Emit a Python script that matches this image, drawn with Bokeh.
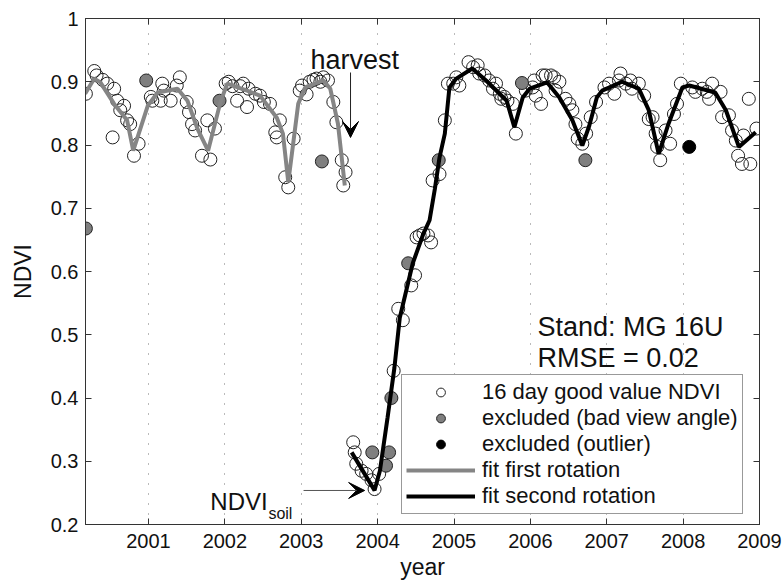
from bokeh.plotting import figure
from bokeh.models import (LinearAxis, FixedTicker, Legend, LegendItem, Label,
                          Arrow, VeeHead, Range1d)
from bokeh.embed import file_html
from bokeh.resources import INLINE

# ---------------- data ----------------
year_ticks = [2001, 2002, 2003, 2004, 2005, 2006, 2007, 2008, 2009]
ndvi_ticks = [0.2, 0.3, 0.4, 0.5, 0.6, 0.7, 0.8, 0.9, 1.0]

good_year = [
    2000.18, 2000.29, 2000.32, 2000.40, 2000.46, 2000.53, 2000.55, 2000.59, 2000.63,
    2000.68, 2000.72, 2000.76, 2000.81, 2000.87, 2001.03, 2001.05, 2001.16, 2001.18,
    2001.20, 2001.29, 2001.37, 2001.41, 2001.50, 2001.53, 2001.57, 2001.61, 2001.70,
    2001.77, 2001.81, 2001.87, 2002.01, 2002.05, 2002.10, 2002.16, 2002.20, 2002.24,
    2002.29, 2002.31, 2002.40, 2002.46, 2002.51, 2002.59, 2002.66, 2002.68, 2002.72,
    2002.79, 2002.83, 2002.90, 2002.98, 2003.01, 2003.07, 2003.11, 2003.16, 2003.20,
    2003.25, 2003.29, 2003.35, 2003.42, 2003.46, 2003.53, 2003.58, 2003.55,
    2003.68, 2003.70, 2003.72, 2003.79, 2003.85, 2003.92, 2003.96, 2004.02, 2004.21,
    2004.27, 2004.33, 2004.44, 2004.49, 2004.51, 2004.55, 2004.60, 2004.66, 2004.70,
    2004.72, 2004.81, 2004.88, 2004.92, 2004.99, 2005.03, 2005.07, 2005.19, 2005.25,
    2005.31, 2005.33, 2005.40, 2005.46, 2005.51, 2005.55, 2005.60, 2005.62, 2005.66,
    2005.70, 2005.77, 2005.81, 2005.94, 2006.03, 2006.05, 2006.07, 2006.14, 2006.16,
    2006.20, 2006.27, 2006.31, 2006.33, 2006.38, 2006.46, 2006.51, 2006.55, 2006.59,
    2006.62, 2006.68, 2006.73, 2006.79, 2006.86, 2006.97, 2007.03, 2007.10, 2007.16,
    2007.18, 2007.25, 2007.31, 2007.33, 2007.42, 2007.49, 2007.55, 2007.60, 2007.64,
    2007.66, 2007.70, 2007.77, 2007.83, 2007.88, 2007.92, 2007.97, 2008.12, 2008.16,
    2008.25, 2008.31, 2008.34, 2008.38, 2008.49, 2008.51, 2008.60, 2008.64, 2008.69,
    2008.72, 2008.77, 2008.79, 2008.86, 2008.88, 2008.96,
]
good_ndvi = [
    0.881, 0.917, 0.910, 0.903, 0.897, 0.812, 0.889, 0.870, 0.855,
    0.862, 0.839, 0.833, 0.783, 0.802, 0.876, 0.870, 0.870, 0.897,
    0.886, 0.870, 0.894, 0.907, 0.868, 0.852, 0.833, 0.823, 0.783,
    0.839, 0.777, 0.826, 0.897, 0.900, 0.893, 0.870, 0.893, 0.897,
    0.860, 0.889, 0.881, 0.878, 0.868, 0.865, 0.820, 0.812, 0.839,
    0.749, 0.733, 0.810, 0.886, 0.894, 0.880, 0.900, 0.903, 0.905,
    0.900, 0.907, 0.902, 0.868, 0.836, 0.776, 0.757, 0.736,
    0.330, 0.314, 0.296, 0.285, 0.280, 0.270, 0.256, 0.280, 0.443,
    0.541, 0.523, 0.578, 0.594, 0.654, 0.657, 0.660, 0.657, 0.646,
    0.744, 0.754, 0.839, 0.897, 0.897, 0.907, 0.894, 0.931, 0.923,
    0.926, 0.913, 0.910, 0.902, 0.889, 0.897, 0.881, 0.873, 0.876,
    0.870, 0.865, 0.818, 0.886, 0.891, 0.902, 0.878, 0.865, 0.910,
    0.910, 0.910, 0.907, 0.886, 0.900, 0.873, 0.865, 0.855, 0.833,
    0.810, 0.802, 0.818, 0.844, 0.868, 0.891, 0.897, 0.881, 0.902,
    0.913, 0.897, 0.902, 0.889, 0.897, 0.878, 0.841, 0.844, 0.818,
    0.797, 0.776, 0.823, 0.802, 0.849, 0.865, 0.897, 0.891, 0.884,
    0.889, 0.884, 0.873, 0.897, 0.884, 0.844, 0.847, 0.823, 0.807,
    0.783, 0.770, 0.815, 0.873, 0.770, 0.826,
]

badview_year = [2000.18, 2000.97, 2001.93, 2003.27, 2003.93, 2004.11, 2004.15,
                2004.18, 2004.40, 2004.80, 2005.89, 2006.72]
badview_ndvi = [0.668, 0.902, 0.870, 0.774, 0.314, 0.293, 0.314,
                0.400, 0.613, 0.776, 0.898, 0.776]

outlier_year = [2008.08]
outlier_ndvi = [0.797]

fit1_year = [2000.17, 2000.29, 2000.37, 2000.55, 2000.72, 2000.80, 2000.99, 2001.12,
             2001.38, 2001.51, 2001.64, 2001.78, 2001.94, 2002.03, 2002.29, 2002.46,
             2002.68, 2002.76, 2002.83, 2002.96, 2003.05, 2003.29, 2003.38, 2003.48,
             2003.57]
fit1_ndvi = [0.881, 0.905, 0.899, 0.865, 0.839, 0.791, 0.862, 0.883,
             0.889, 0.870, 0.826, 0.791, 0.867, 0.897, 0.886, 0.878,
             0.843, 0.818, 0.741, 0.865, 0.891, 0.902, 0.889, 0.834,
             0.736]

fit2_year = [2003.66, 2003.96, 2004.03, 2004.13, 2004.22, 2004.29, 2004.46, 2004.60,
             2004.68, 2004.75, 2004.81, 2004.88, 2004.94, 2005.03, 2005.24, 2005.42,
             2005.69, 2005.79, 2005.90, 2005.99, 2006.22, 2006.38, 2006.55, 2006.68,
             2006.77, 2006.87, 2006.94, 2007.20, 2007.42, 2007.55, 2007.68, 2007.81,
             2007.99, 2008.08, 2008.42, 2008.56, 2008.73, 2008.95]
fit2_ndvi = [0.314, 0.254, 0.285, 0.369, 0.448, 0.527, 0.613, 0.660,
             0.681, 0.731, 0.780, 0.818, 0.891, 0.905, 0.921, 0.902,
             0.870, 0.828, 0.875, 0.889, 0.899, 0.875, 0.839, 0.799,
             0.830, 0.875, 0.886, 0.900, 0.889, 0.855, 0.786, 0.834,
             0.891, 0.894, 0.883, 0.855, 0.797, 0.820]

# ---------------- figure ----------------
FONT = "Liberation Sans"
AX = "#333333"
TXT = "#111111"

p = figure(width=782, height=585, output_backend="svg", toolbar_location=None,
           x_range=Range1d(2000.175, 2009.0), y_range=Range1d(0.2, 1.0),
           min_border_left=85, min_border_right=23, min_border_top=18,
           min_border_bottom=61)
p.background_fill_color = "white"
p.border_fill_color = "white"
p.outline_line_color = AX
p.outline_line_width = 1

for ax in (p.xaxis[0], p.yaxis[0]):
    ax.major_tick_in = 6
    ax.major_tick_out = 0
    ax.minor_tick_line_color = None
    ax.axis_line_color = AX
    ax.major_tick_line_color = AX
    ax.major_label_text_font = FONT
    ax.major_label_text_font_size = "20px"
    ax.major_label_text_color = TXT
    ax.axis_label_text_font = FONT
    ax.axis_label_text_font_size = "23px"
    ax.axis_label_text_font_style = "normal"
    ax.axis_label_text_color = TXT

p.xaxis.ticker = FixedTicker(ticks=year_ticks)
p.xaxis.axis_label = "year"
p.xaxis.major_label_standoff = 9
p.xaxis.axis_label_standoff = 3

p.yaxis.ticker = FixedTicker(ticks=ndvi_ticks)
p.yaxis.major_label_overrides = {1: "1"}
p.yaxis.axis_label = "NDVI"
p.yaxis.major_label_standoff = 7
p.yaxis.axis_label_standoff = 12

# ticks only (no labels) on the top and right edges
top = LinearAxis(ticker=FixedTicker(ticks=year_ticks), major_label_text_font_size="0px",
                 major_label_text_color=None, major_label_standoff=0,
                 major_tick_in=6, major_tick_out=0,
                 minor_tick_line_color=None, axis_line_color=AX, major_tick_line_color=AX)
p.add_layout(top, "above")
right = LinearAxis(ticker=FixedTicker(ticks=ndvi_ticks), major_label_text_font_size="0px",
                   major_label_text_color=None, major_label_standoff=0,
                   major_tick_in=6, major_tick_out=0,
                   minor_tick_line_color=None, axis_line_color=AX, major_tick_line_color=AX)
p.add_layout(right, "right")

p.xgrid.ticker = FixedTicker(ticks=year_ticks)
p.xgrid.grid_line_color = "#777777"
p.xgrid.grid_line_dash = "1 9"
p.xgrid.grid_line_width = 1
p.ygrid.visible = False

# ---------------- glyphs ----------------
r_good = p.scatter(good_year, good_ndvi, marker="circle", size=13,
                   fill_color=None, line_color="#222222", line_width=1)
r_bad = p.scatter(badview_year, badview_ndvi, marker="circle", size=13,
                  fill_color="#7f7f7f", line_color="#222222", line_width=1)
r_out = p.scatter(outlier_year, outlier_ndvi, marker="circle", size=13,
                  fill_color="black", line_color="black", line_width=1)
r_fit1 = p.line(fit1_year, fit1_ndvi, line_color="#858585", line_width=4)
r_fit2 = p.line(fit2_year, fit2_ndvi, line_color="black", line_width=4)

legend = Legend(items=[
    LegendItem(label="16 day good value NDVI", renderers=[r_good]),
    LegendItem(label="excluded (bad view angle)", renderers=[r_bad]),
    LegendItem(label="excluded (outlier)", renderers=[r_out]),
    LegendItem(label="fit first rotation", renderers=[r_fit1]),
    LegendItem(label="fit second rotation", renderers=[r_fit2]),
], location=(316, 10))
legend.label_text_font = FONT
legend.label_text_font_size = "22px"
legend.label_text_color = TXT
legend.glyph_width = 69
legend.glyph_height = 22
legend.label_height = 22
legend.label_standoff = 7
legend.spacing = 0
legend.padding = 4
legend.margin = 0
legend.border_line_color = AX
legend.border_line_width = 1
legend.background_fill_color = "white"
legend.background_fill_alpha = 1.0
p.add_layout(legend)

# ---------------- annotations ----------------
p.add_layout(Label(x=2003.12, y=0.9336, text="harvest", text_font=FONT,
                   text_font_size="27px", text_baseline="alphabetic", text_color=TXT))
p.add_layout(Arrow(x_start=2003.645, y_start=0.9146, x_end=2003.645, y_end=0.8119,
                   line_color="#222222", line_width=1,
                   end=VeeHead(size=16, fill_color="black", line_color="black")))

p.add_layout(Label(x=2006.093, y=0.5115, text="Stand: MG 16U", text_font=FONT,
                   text_font_size="27px", text_baseline="alphabetic", text_color=TXT))
p.add_layout(Label(x=2006.093, y=0.4625, text="RMSE = 0.02", text_font=FONT,
                   text_font_size="27px", text_baseline="alphabetic", text_color=TXT))

p.add_layout(Label(x=2001.81, y=0.2364, text="NDVI", text_font=FONT,
                   text_font_size="24px", text_baseline="alphabetic", text_color=TXT))
p.add_layout(Label(x=2002.57, y=0.2174, text="soil", text_font=FONT,
                   text_font_size="16px", text_baseline="alphabetic", text_color=TXT))
p.add_layout(Arrow(x_start=2003.03, y_start=0.2538, x_end=2003.83, y_end=0.2538,
                   line_color="#555555", line_width=1,
                   end=VeeHead(size=16, fill_color="black", line_color="black")))

open("out.html", "w").write(file_html(p, INLINE))
